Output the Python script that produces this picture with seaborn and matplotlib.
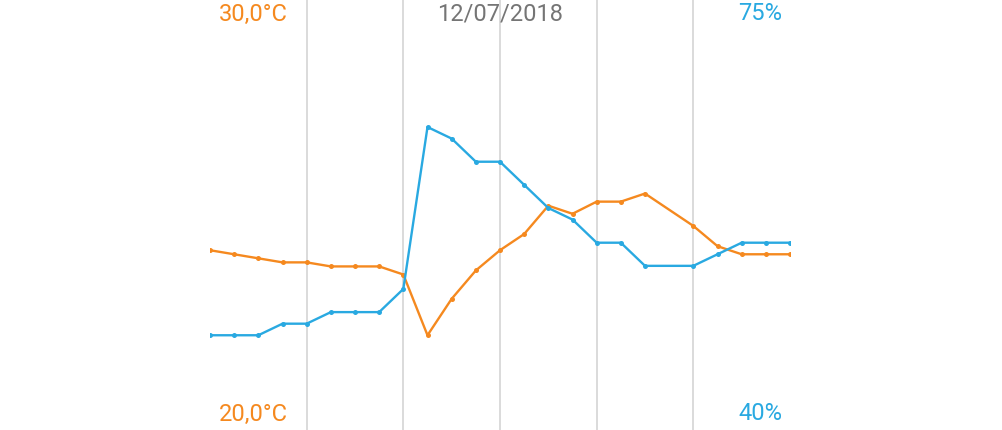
import pandas as pd
import matplotlib
matplotlib.use("Agg")
import matplotlib.pyplot as plt
import seaborn as sns

# hourly readings for 12/07/2018 (hour 19 missing)
hours = [0, 1, 2, 3, 4, 5, 6, 7, 8, 9, 10, 11, 12, 13, 14, 15, 16, 17, 18, 20, 21, 22, 23, 24]
temperature = [24.1, 24.0, 23.9, 23.8, 23.8, 23.7, 23.7, 23.7, 23.5, 22.0, 22.9, 23.6,
               24.1, 24.5, 25.2, 25.0, 25.3, 25.3, 25.5, 24.7, 24.2, 24.0, 24.0, 24.0]
humidity = [47, 47, 47, 48, 48, 49, 49, 49, 51, 65, 64, 62,
            62, 60, 58, 57, 55, 55, 53, 53, 54, 55, 55, 55]
grid_hours = [4, 8, 12, 16, 20]
date_label = "12/07/2018"
temp_labels = ["30,0°C", "20,0°C"]
hum_labels = ["75%", "40%"]

ORANGE = "#F5891F"
BLUE = "#29A9E1"
GREY = "#757575"

df = pd.DataFrame({"hour": hours, "temp": temperature, "hum": humidity})

sns.set_style("white")
plt.rcParams["font.family"] = ["Roboto", "DejaVu Sans"]

fig = plt.figure(figsize=(10.02, 4.3), dpi=100)
ax = fig.add_axes([210 / 1002, 0, 580 / 1002, 1])
ax2 = ax.twinx()

sns.lineplot(data=df, x="hour", y="temp", ax=ax, color=ORANGE, linewidth=1.7,
             marker="o", markersize=3.6, markeredgewidth=0)
sns.lineplot(data=df, x="hour", y="hum", ax=ax2, color=BLUE, linewidth=1.7,
             marker="o", markersize=3.6, markeredgewidth=0)

ax.set_xlim(0, 24)
ax.set_ylim(19.66, 30.28)
ax2.set_ylim(38.81, 75.98)

ax.set_xticks(grid_hours)
ax.grid(axis="x", color="#d4d4d4", linewidth=1.2)
ax.tick_params(length=0, labelbottom=False, labelleft=False)
ax2.tick_params(length=0, labelright=False)
ax2.set_yticks([])
ax.set_yticks([])
for a in (ax, ax2):
    a.set_xlabel("")
    a.set_ylabel("")
    for s in a.spines.values():
        s.set_visible(False)
ax.set_facecolor("none")

fs = 17
fig.text(253 / 1002, 1 - 14 / 430, temp_labels[0], color=ORANGE, fontsize=fs, ha="center", va="center")
fig.text(253 / 1002, 1 - 414 / 430, temp_labels[1], color=ORANGE, fontsize=fs, ha="center", va="center")
fig.text(760 / 1002, 1 - 14 / 430, hum_labels[0], color=BLUE, fontsize=fs, ha="center", va="center")
fig.text(760 / 1002, 1 - 414 / 430, hum_labels[1], color=BLUE, fontsize=fs, ha="center", va="center")
fig.text(500 / 1002, 1 - 14 / 430, date_label, color=GREY, fontsize=fs, ha="center", va="center")

fig.savefig("out.png", dpi=100)
plt.close(fig)
